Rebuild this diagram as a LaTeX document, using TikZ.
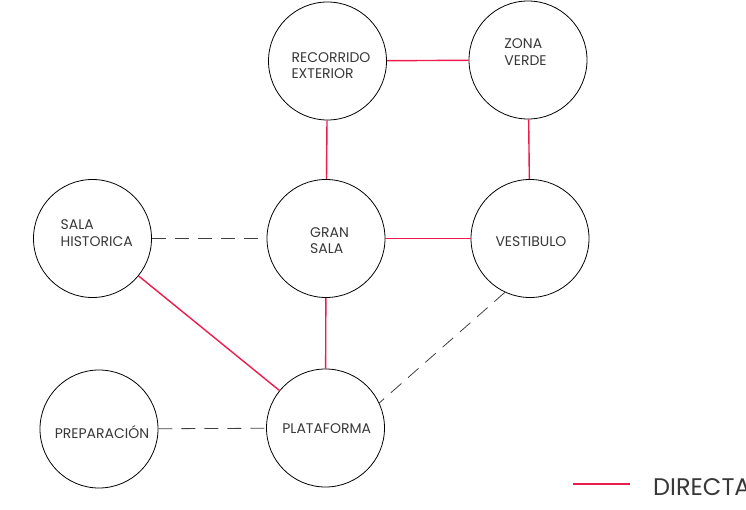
\documentclass[tikz,border=0pt]{standalone}
\usepackage{fontspec}
\setmainfont{Poppins}
\usetikzlibrary{calc}
\definecolor{linkred}{rgb}{0.93, 0.11, 0.30}
\definecolor{textgray}{rgb}{0.22, 0.22, 0.22}
\tikzstyle{room} = [circle, draw=black, line width=0.8pt, minimum size=118pt, inner sep=0]
\tikzstyle{roomtext} = [align=left, text=textgray, font=\fontsize{14}{16.7}\selectfont, inner sep=0]
\tikzstyle{direct} = [linkred, line width=1.4pt]
\tikzstyle{indirect} = [black!75, line width=0.8pt, dash pattern=on 14pt off 9pt]

\begin{document}
\begin{tikzpicture}[x=1pt, y=-1pt]

    \useasboundingbox (0,0) rectangle (746,510);

    % Rooms
    \node (rec) at (327.5,61) [room] {};
    \node (zona) at (528,60) [room] {};
    \node (hist) at (92.5,238.5) [room] {};
    \node (gran) at (326,238.5) [room] {};
    \node (vest) at (530,238.5) [room] {};
    \node (prep) at (99,429) [room] {};
    \node (plat) at (325.5,428) [room] {};

    % Room names
    \node (trec) at (331,65.5) [roomtext] {RECORRIDO\\EXTERIOR};
    \node (tzona) at (525.5,52) [roomtext] {ZONA\\VERDE};
    \node (thist) at (96.7,233.4) [roomtext] {SALA\\HISTORICA};
    \node (tgran) at (329.5,240.5) [roomtext] {GRAN\\SALA};
    \node (tvest) at (531,241.7) [roomtext] {VESTIBULO};
    \node (tprep) at (102,432) [roomtext] {PREPARACIÓN};
    \node (tplat) at (326.7,428.3) [roomtext] {PLATAFORMA};

    % Direct links
    \draw[direct] (rec) -- (zona);
    \draw[direct] (rec) -- (gran);
    \draw[direct] (zona) -- (vest);
    \draw[direct] (gran) -- (vest);
    \draw[direct] (gran) -- (plat);
    \draw[direct] (hist) -- (plat);

    % Indirect links
    \draw[indirect] (hist) -- (gran);
    \draw[indirect] (prep) -- (plat);
    \draw[indirect] (vest.245) -- (plat.25);

    % Legend
    \coordinate (lega) at (573,484);
    \coordinate (legb) at (630,484);
    \draw[direct] (lega) -- (legb);
    \node (tleg) at (653,486.7) [anchor=west, inner sep=0, text=textgray, font=\fontsize{24}{28}\selectfont] {DIRECTA};

\end{tikzpicture}
\end{document}
